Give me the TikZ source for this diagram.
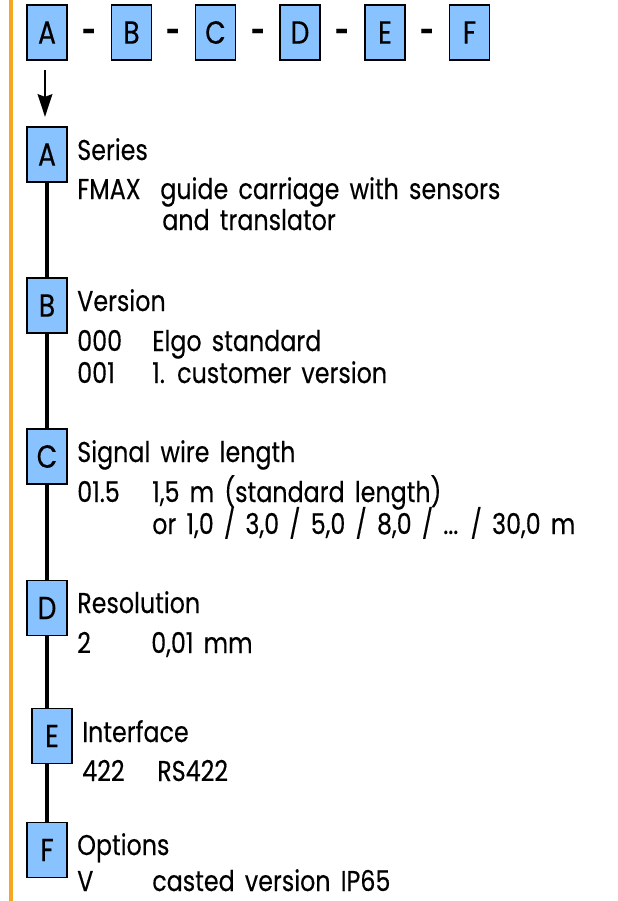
\documentclass[tikz,border=0pt]{standalone}
\usepackage{fontspec}
\setmainfont{Poppins}
\newfontfamily\keyfont[FakeBold=0.3, FakeStretch=0.83, WordSpace=1.6]{Poppins}
\usepackage{xcolor}
\usetikzlibrary{arrows.meta, positioning}
\definecolor{codeblue}{RGB}{136,194,255}
\definecolor{rulegold}{RGB}{245,166,35}

\begin{document}
\begin{tikzpicture}[
    x=0.75pt, y=-0.75pt,
    every node/.style={font=\keyfont\fontsize{21.5}{25}\selectfont},
    codebox/.style={rectangle, draw, line width=1.2pt, fill=codeblue, minimum width=30pt, minimum height=41.25pt, inner sep=0pt, font=\keyfont\fontsize{24}{28}\selectfont},
    hyph/.style={inner sep=0pt, font=\keyfont\fontsize{21.5}{25}\selectfont\bfseries},
    txt/.style={anchor=base west, inner sep=0pt},
    arrow/.style={-{Stealth[length=17pt, width=11pt, inset=2pt]}, line width=1.8pt},
    spine/.style={line width=3pt},
]
\useasboundingbox (0,0) rectangle (618,901);

% left margin rule
\coordinate (rtop) at (11,0);
\coordinate (rbot) at (11,901);
\draw[rulegold, line width=2.4pt] (rtop) -- (rbot);

% order code
\node[codebox] (ta) at (47,32.5) {A};
\node[hyph] (h1) at (89,35) {-};
\node[codebox] (tb) at (131.5,32.5) {B};
\node[hyph] (h2) at (173,35) {-};
\node[codebox] (tc) at (215.5,32.5) {C};
\node[hyph] (h3) at (258,35) {-};
\node[codebox] (td) at (300,32.5) {D};
\node[hyph] (h4) at (342,35) {-};
\node[codebox] (te) at (385,32.5) {E};
\node[hyph] (h5) at (427,35) {-};
\node[codebox] (tf) at (469.5,32.5) {F};

% key boxes
\node[codebox] (a) at (47,154.5) {A};
\node[codebox] (b) at (47,305.5) {B};
\node[codebox] (c) at (47,456.5) {C};
\node[codebox] (d) at (47,608) {D};
\node[codebox] (e) at (52,736) {E};
\node[codebox] (f) at (47,850) {F};

\draw[arrow] ([xshift=-1.5pt, yshift=-7pt]ta.south) -- ([xshift=-1.5pt, yshift=7pt]a.north);
\draw[spine] (a.south) -- (b.north);
\draw[spine] (b.south) -- (c.north);
\draw[spine] (c.south) -- (d.north);
\draw[spine] (d.south) -- (d.south |- e.north);
\draw[spine] (d.south |- e.south) -- (f.north);

% A
\node[txt] (aname) at (77,160) {Series};
\node[txt] (acode) at (77,199) {FMAX};
\node[txt] (adesc) at (160,199) {guide carriage with sensors};
\node[txt] (adesc2) at (162,230) {and translator};
% B
\node[txt] (bname) at (77,311) {Version};
\node[txt] (bcode) at (77,351) {000};
\node[txt] (bdesc) at (152,351) {Elgo standard};
\node[txt] (bcode2) at (77,383) {001};
\node[txt] (bdesc2) at (152,383) {1. customer version};
% C
\node[txt] (cname) at (77,462) {Signal wire length};
\node[txt] (ccode) at (77,502) {01.5};
\node[txt] (cdesc) at (152,502) {1,5 m (standard length)};
\node[txt] (cdesc2) at (152,534) {or 1,0 / 3,0 / 5,0 / 8,0 / ... / 30,0 m};
% D
\node[txt] (dname) at (77,613) {Resolution};
\node[txt] (dcode) at (77,653) {2};
\node[txt] (ddesc) at (151,653) {0,01 mm};
% E
\node[txt] (ename) at (82,742) {Interface};
\node[txt] (ecode) at (82,781) {422};
\node[txt] (edesc) at (157,781) {RS422};
% F
\node[txt] (fname) at (77,855) {Options};
\node[txt] (fcode) at (77,891) {V};
\node[txt] (fdesc) at (152,891) {casted version IP65};

\end{tikzpicture}
\end{document}
